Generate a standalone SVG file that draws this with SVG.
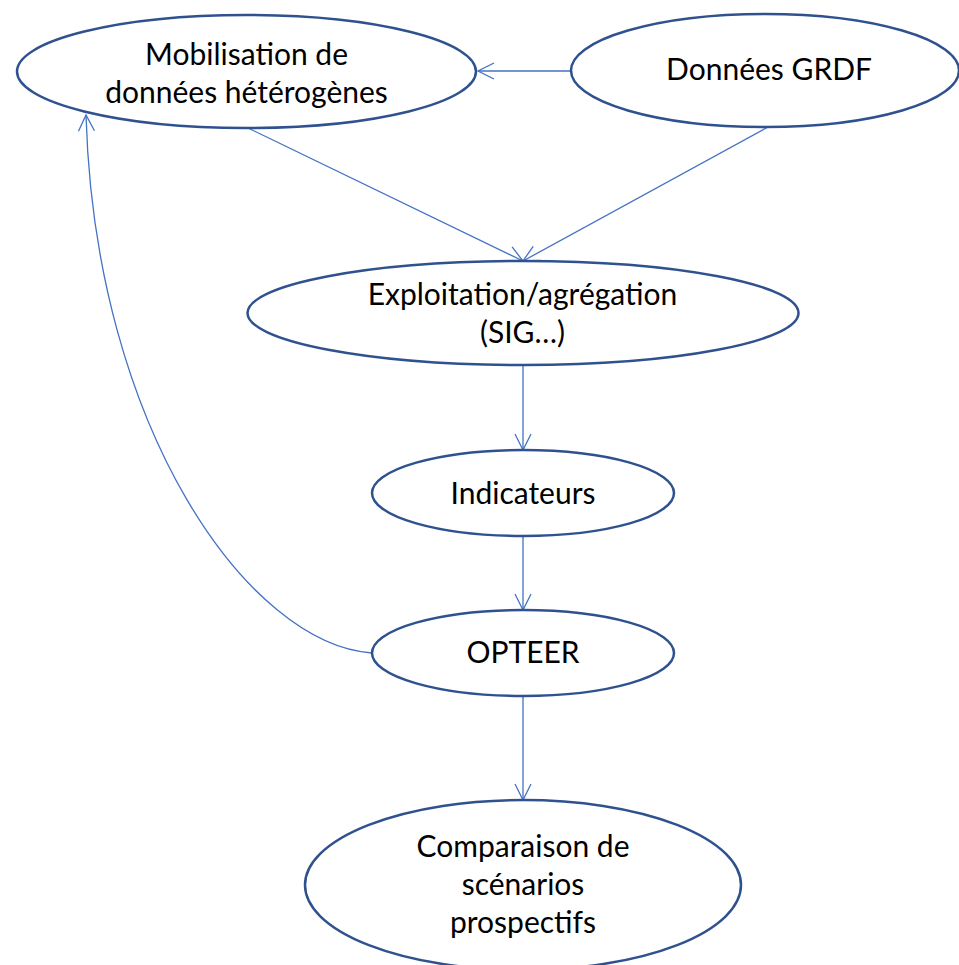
<svg xmlns="http://www.w3.org/2000/svg" width="959" height="965" viewBox="0 0 959 965">
<defs>
<style>
.node{fill:#FFFFFF;stroke:#2F528F;stroke-width:2.5}
.lbl{font-family:"Lato","Liberation Sans",sans-serif;font-size:30px;fill:#000000;text-anchor:middle}
.conn{fill:none;stroke:#4472C4;stroke-width:1.3;marker-end:url(#arr)}
</style>
<marker id="arr" markerUnits="userSpaceOnUse" viewBox="-18 -10 20 20" refX="0" refY="0" markerWidth="20" markerHeight="20" orient="auto">
<path d="M-16,-8 L0,0 L-16,8" fill="none" stroke="#4472C4" stroke-width="1.3"/>
</marker>
</defs>
<rect width="959" height="965" fill="#FFFFFF"/>
<g id="connectors">
<path class="conn" d="M571,71 L478,71"/>
<path class="conn" d="M248,128 L523,261"/>
<path class="conn" d="M768,127 L523,261"/>
<path class="conn" d="M523,365 L523,450"/>
<path class="conn" d="M523,536 L523,610"/>
<path class="conn" d="M523,696 L523,800"/>
<path class="conn" d="M372,653 C250,645 95,430 86,115"/>
</g>
<g id="mobilisation">
<ellipse class="node" cx="246.5" cy="71.5" rx="229.5" ry="56.5"/>
<text class="lbl" x="246.5" y="65">Mobilisation de</text>
<text class="lbl" x="246.5" y="103">données hétérogènes</text>
</g>
<g id="grdf">
<ellipse class="node" cx="765" cy="70.5" rx="194" ry="56.5"/>
<text class="lbl" x="769" y="80">Données GRDF</text>
</g>
<g id="exploitation">
<ellipse class="node" cx="523" cy="313" rx="275.5" ry="52"/>
<text class="lbl" x="522.5" y="305">Exploitation/agrégation</text>
<text class="lbl" x="522.5" y="343">(SIG…)</text>
</g>
<g id="indicateurs">
<ellipse class="node" cx="523" cy="493" rx="151" ry="43"/>
<text class="lbl" x="523" y="504">Indicateurs</text>
</g>
<g id="opteer">
<ellipse class="node" cx="523" cy="653" rx="151" ry="43"/>
<text class="lbl" x="523" y="663">OPTEER</text>
</g>
<g id="comparaison">
<ellipse class="node" cx="523" cy="885" rx="218" ry="85"/>
<text class="lbl" x="523" y="857">Comparaison de</text>
<text class="lbl" x="523" y="895">scénarios</text>
<text class="lbl" x="523" y="933">prospectifs</text>
</g>
</svg>
